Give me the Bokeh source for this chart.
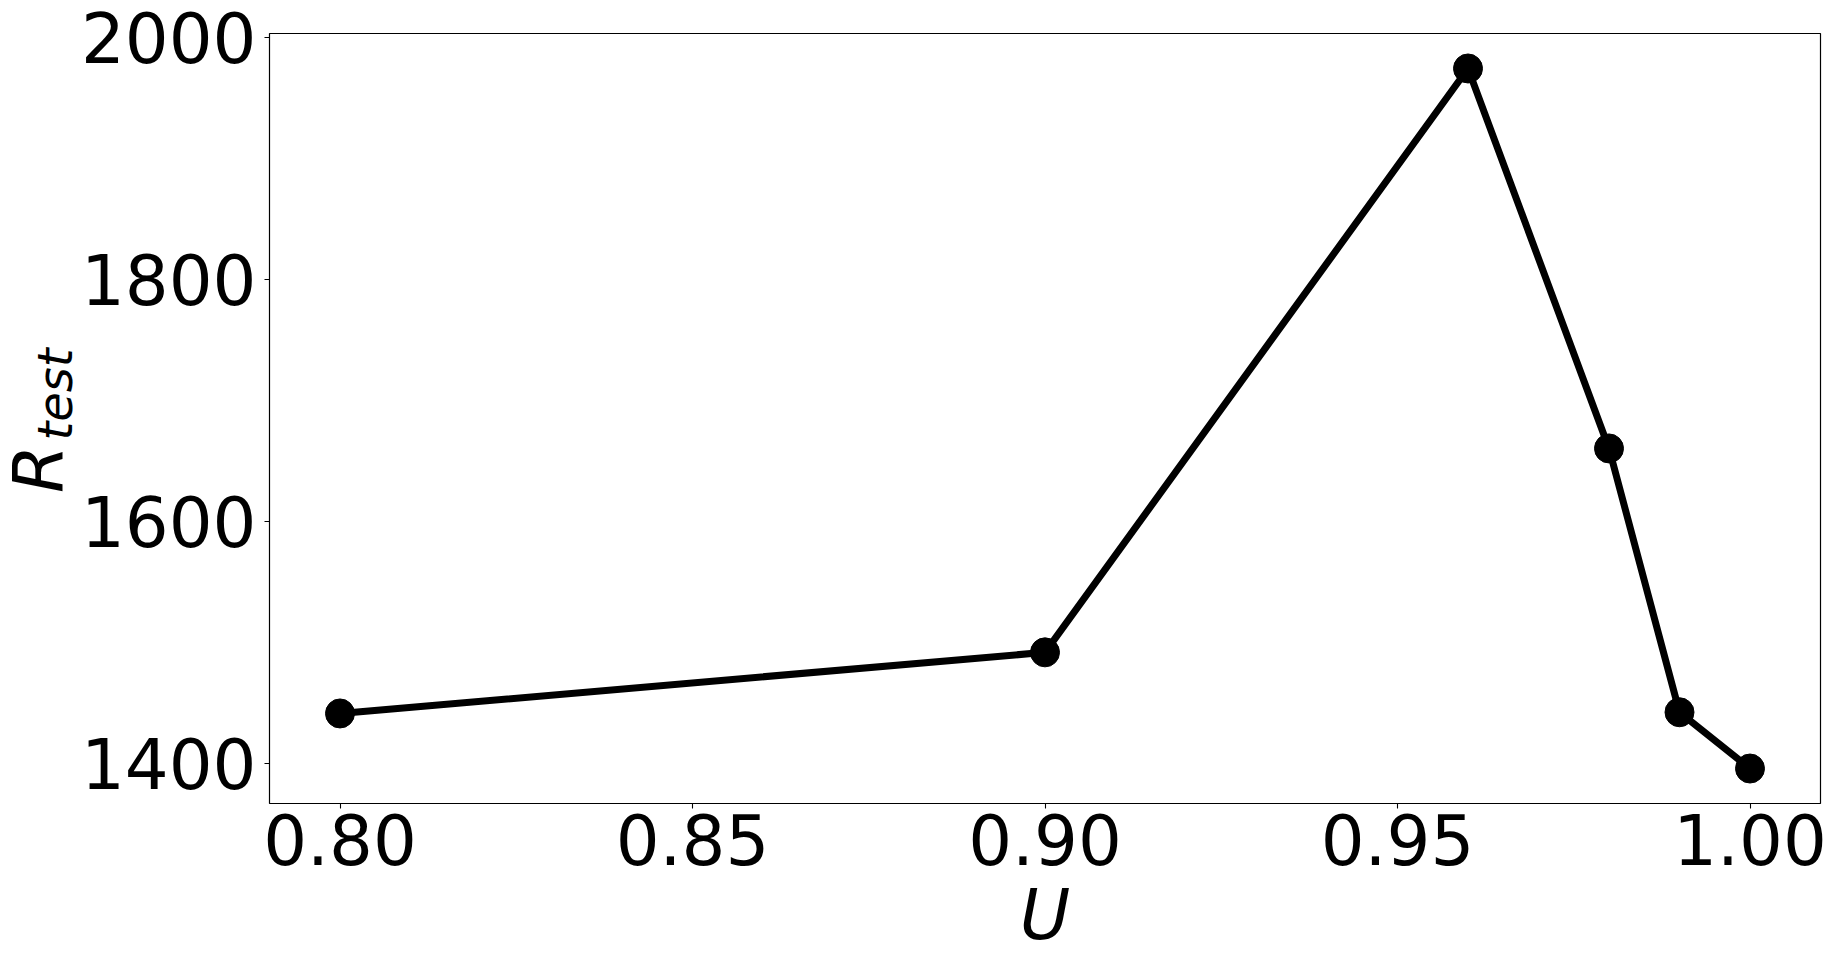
import math
from bokeh.plotting import figure
from bokeh.layouts import row
from bokeh.models import Range1d, FixedTicker, PrintfTickFormatter
from bokeh.core.properties import value
from bokeh.embed import file_html
from bokeh.resources import INLINE

# data
u_values = [0.80, 0.90, 0.96, 0.98, 0.99, 1.00]
r_test = [1441, 1491.5, 1974, 1660, 1442, 1395.5]
x_ticks = [0.80, 0.85, 0.90, 0.95, 1.00]
y_ticks = [1400, 1600, 1800, 2000]
x_label = "U"
y_label_main = "R"
y_label_sub = "test"

FONT = "DejaVu Sans"
FS = "69px"
H = 960
LW = 76          # width of the strip holding the y-axis title
TOP, BOTTOM = 33, 803   # frame top / bottom in page pixels

# strip with the y-axis title (R with subscript "test"); its ranges are in page pixels
lab = figure(width=LW, height=H, output_backend="svg", toolbar_location=None,
             x_range=Range1d(0, LW), y_range=Range1d(BOTTOM, TOP),
             x_axis_type=None, y_axis_type=None,
             min_border_left=0, min_border_right=0,
             min_border_top=TOP, min_border_bottom=H - BOTTOM)
lab.outline_line_color = None
lab.grid.visible = False
lab.background_fill_color = "white"
lab.border_fill_color = "white"
lab.text(x=[37.5], y=[468.5], text=[y_label_main], angle=math.pi / 2,
         text_font=value(FONT), text_font_size=value("69px"), text_font_style="italic",
         text_align="center", text_baseline="middle", text_color="black")
lab.text(x=[54.5], y=[394], text=[y_label_sub], angle=math.pi / 2,
         text_font=value(FONT), text_font_size=value("48px"), text_font_style="italic",
         text_align="center", text_baseline="middle", text_color="black")

p = figure(width=1836 - LW, height=H, output_backend="svg", toolbar_location=None,
           x_range=Range1d(0.79, 1.01), y_range=Range1d(1366.6, 2002.9),
           min_border_left=269 - LW, min_border_right=16,
           min_border_top=TOP, min_border_bottom=H - BOTTOM)
p.background_fill_color = "white"
p.border_fill_color = "white"
p.grid.visible = False
p.outline_line_color = "black"
p.outline_line_width = 1.2

for ax in (p.xaxis[0], p.yaxis[0]):
    ax.axis_line_color = None
    ax.major_tick_in = 0
    ax.major_tick_out = 5
    ax.major_tick_line_width = 1.1
    ax.major_tick_line_color = "black"
    ax.minor_tick_line_color = None
    ax.major_label_text_font = FONT
    ax.major_label_text_font_size = FS
    ax.major_label_text_color = "black"

p.xaxis.ticker = FixedTicker(ticks=x_ticks)
p.xaxis.formatter = PrintfTickFormatter(format="%.2f")
p.xaxis.major_label_standoff = 5
p.xaxis.axis_label = x_label
p.xaxis.axis_label_text_font = FONT
p.xaxis.axis_label_text_font_size = "69px"
p.xaxis.axis_label_text_font_style = "italic"
p.xaxis.axis_label_text_color = "black"
p.xaxis.axis_label_standoff = 7
p.yaxis.ticker = FixedTicker(ticks=y_ticks)
p.yaxis.major_label_standoff = 8

p.line(u_values, r_test, line_color="black", line_width=7)
p.scatter(u_values, r_test, size=29, fill_color="black", line_color="black")

layout = row(lab, p, spacing=0)
open("out.html", "w").write(file_html(layout, INLINE))
